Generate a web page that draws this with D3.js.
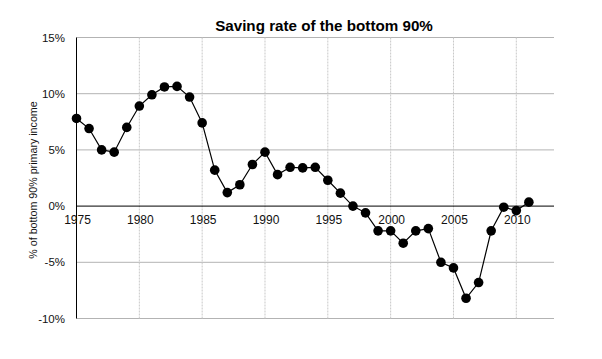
<!DOCTYPE html>
<html><head><meta charset="utf-8">
<script src="https://cdn.jsdelivr.net/npm/d3@7"></script>
<style>body{margin:0;background:#fff;}svg{display:block;font-family:"Liberation Sans",Arial,sans-serif;}</style>
</head><body>
<svg id="c" width="602" height="359"></svg>
<script>
const years = [1975,1976,1977,1978,1979,1980,1981,1982,1983,1984,1985,1986,1987,1988,1989,1990,1991,1992,1993,1994,1995,1996,1997,1998,1999,2000,2001,2002,2003,2004,2005,2006,2007,2008,2009,2010,2011];
const savingRate = [7.8,6.9,5.0,4.8,7.0,8.9,9.9,10.6,10.65,9.7,7.4,3.2,1.2,1.9,3.7,4.8,2.8,3.45,3.4,3.45,2.3,1.15,0.0,-0.6,-2.2,-2.2,-3.3,-2.2,-2.0,-5.0,-5.5,-8.2,-6.8,-2.2,-0.1,-0.4,0.35];
const xTicks = [1975,1980,1985,1990,1995,2000,2005,2010];
const yTicks = [-10,-5,0,5,10,15];
const title = "Saving rate of the bottom 90%";
const yTitle = "% of bottom 90% primary income";

const svg = d3.select("#c");
const x = d3.scaleLinear().domain([1975,2013]).range([76.5,554]);
const y = d3.scaleLinear().domain([-10,15]).range([318.5,37.5]);

// horizontal gridlines
svg.append("g").selectAll("line").data(yTicks.filter(d=>d!==0)).join("line")
  .attr("x1",x(1975)).attr("x2",x(2013))
  .attr("y1",d=>y(d)).attr("y2",d=>y(d))
  .attr("stroke","#b3b3b3").attr("stroke-width",1);
// vertical gridlines (dotted)
svg.append("g").selectAll("line").data(xTicks.filter(d=>d!==1975)).join("line")
  .attr("x1",d=>x(d)).attr("x2",d=>x(d))
  .attr("y1",y(15)).attr("y2",y(-10))
  .attr("stroke","#c8c8c8").attr("stroke-width",1).attr("stroke-dasharray","2,1");
// zero line
svg.append("line").attr("x1",x(1975)).attr("x2",x(2013)).attr("y1",y(0)).attr("y2",y(0))
  .attr("stroke","#000").attr("stroke-width",1);
// left axis line
svg.append("line").attr("x1",x(1975)).attr("x2",x(1975)).attr("y1",y(15)).attr("y2",y(-10))
  .attr("stroke","#000").attr("stroke-width",1);

// y tick labels
svg.append("g").selectAll("text").data(yTicks).join("text")
  .attr("x",65).attr("y",d=>y(d)+4)
  .attr("text-anchor","end").attr("font-size",11.5).attr("fill","#111")
  .text(d=>d+"%");
// x tick labels
svg.append("g").selectAll("text").data(xTicks).join("text")
  .attr("x",d=>x(d)+1).attr("y",y(0)+18)
  .attr("text-anchor","middle").attr("font-size",12).attr("fill","#111")
  .text(d=>d);

// line
const pts = years.map((yr,i)=>[yr,savingRate[i]]);
svg.append("path").datum(pts)
  .attr("d",d3.line().x(d=>x(d[0])).y(d=>y(d[1])))
  .attr("fill","none").attr("stroke","#000").attr("stroke-width",1.2);
svg.append("g").selectAll("circle").data(pts).join("circle")
  .attr("cx",d=>x(d[0])).attr("cy",d=>y(d[1])).attr("r",4.8).attr("fill","#000");

// title
svg.append("text").attr("x",324).attr("y",31).attr("text-anchor","middle")
  .attr("font-size",15.2).attr("font-weight","bold").attr("fill","#000").text(title);
// y title
svg.append("text").attr("transform","translate(37,180) rotate(-90)")
  .attr("text-anchor","middle").attr("font-size",10.7).attr("fill","#111").text(yTitle);
</script>
</body></html>
